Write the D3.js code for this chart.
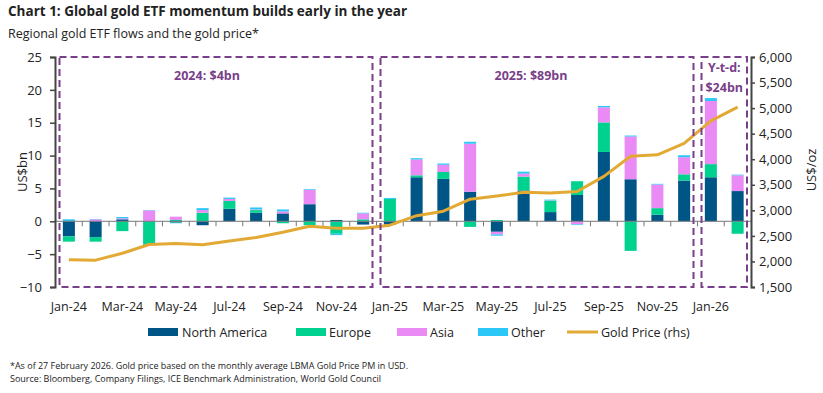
<!DOCTYPE html>
<html><head><meta charset="utf-8">
<script src="https://cdn.jsdelivr.net/npm/d3@7"></script>
<style>
body{margin:0;background:#fff;}
svg{display:block;font-family:"Open Sans","Noto Sans",sans-serif;}
</style></head>
<body><svg id="c" width="823" height="393"></svg>
<script>
const months = ["Jan-24","Feb-24","Mar-24","Apr-24","May-24","Jun-24","Jul-24","Aug-24","Sep-24","Oct-24","Nov-24","Dec-24",
"Jan-25","Feb-25","Mar-25","Apr-25","May-25","Jun-25","Jul-25","Aug-25","Sep-25","Oct-25","Nov-25","Dec-25","Jan-26","Feb-26"];
const northAmerica = [-2.3,-2.4,0.3,0,-0.2,-0.6,1.9,1.3,1.2,2.6,0.2,-0.5,-0.5,6.7,6.45,4.5,-1.6,4.7,1.4,4.0,10.55,6.4,1.0,6.2,6.7,4.6];
const europe = [-0.8,-0.7,-1.5,-3.6,0.2,1.3,1.2,0.4,-0.3,-0.6,-1.9,0.3,3.4,0.3,1.05,-0.85,0.2,2.1,1.75,2.1,4.5,-4.5,1.0,0.95,2.0,-1.9];
const asia = [0,0.3,0.15,1.65,0.5,0.4,0.3,0.1,0.3,2.2,0,0.9,0,2.4,1.1,7.3,-0.4,0.45,0.05,-0.45,2.3,6.5,3.6,2.6,9.6,2.4];
const other = [0.3,0.05,0.2,0.05,-0.1,0.3,0.2,0.3,0.3,0.1,-0.2,0.1,0.15,0.2,0.2,0.3,-0.2,0.3,0.1,-0.1,0.2,0.15,0.1,0.3,0.45,0.1];
const goldPrice = [2034,2025,2160,2331,2351,2326,2398,2470,2571,2690,2651,2648,2709,2895,2984,3217,3280,3352,3340,3368,3665,4059,4087,4310,4750,5020];
const leftTicks = [-10,-5,0,5,10,15,20,25];
const rightTicks = [1500,2000,2500,3000,3500,4000,4500,5000,5500,6000];
const seriesNames = ["North America","Europe","Asia","Other"];
const periods = [
  {from:"Jan-24", to:"Dec-24", lines:["2024: $4bn"]},
  {from:"Jan-25", to:"Dec-25", lines:["2025: $89bn"]},
  {from:"Jan-26", to:"Feb-26", lines:["Y-t-d:","$24bn"]}
];

const colors = {"North America":"#005587","Europe":"#00D18F","Asia":"#E98AF5","Other":"#2BC8F7"};
const goldColor = "#E2A934", purple = "#7A3F8A", txt = "#222";

const svg = d3.select("#c");
const x = d3.scaleBand().domain(months).range([55.5, 751]).paddingInner(0.55).paddingOuter(0.275);
const yL = d3.scaleLinear().domain([-10,25]).range([287,57]);
const yR = d3.scaleLinear().domain([1500,6000]).range([287,57]);

const rows = months.map((m,i)=>({month:m,"North America":northAmerica[i],"Europe":europe[i],"Asia":asia[i],"Other":other[i]}));
const stacked = d3.stack().keys(seriesNames).offset(d3.stackOffsetDiverging)(rows);

// Title
svg.append("text").attr("x",8).attr("y",16).attr("font-size",13.5).attr("font-weight","bold").attr("fill",txt)
  .text("Chart 1: Global gold ETF momentum builds early in the year");
svg.append("text").attr("x",8).attr("y",38).attr("font-size",12.5).attr("fill",txt)
  .text("Regional gold ETF flows and the gold price*");

// Bars
svg.append("g").selectAll("g").data(stacked).join("g").attr("fill",d=>colors[d.key])
  .selectAll("rect").data(d=>d).join("rect")
  .attr("x",d=>x(d.data.month)).attr("width",x.bandwidth())
  .attr("y",d=>yL(Math.max(d[0],d[1]))).attr("height",d=>Math.abs(yL(d[0])-yL(d[1])));

// Zero axis
const xAxis = d3.axisBottom(x).tickSize(0).tickFormat("");
svg.append("line").attr("x1",55).attr("x2",751).attr("y1",yL(0)).attr("y2",yL(0)).attr("stroke","#777").attr("stroke-width",1);
const step = x.step();
const bounds = d3.range(1, months.length).map(i=>x(months[i]) - (step - x.bandwidth())/2);
svg.append("g").selectAll("line").data(bounds).join("line")
  .attr("x1",d=>d).attr("x2",d=>d).attr("y1",yL(0)).attr("y2",yL(0)+5).attr("stroke","#777");

// x labels
svg.append("g").selectAll("text").data(months.filter((m,i)=>i%2===0)).join("text")
  .attr("x",d=>x(d)+x.bandwidth()/2).attr("y",311).attr("text-anchor","middle")
  .attr("font-size",12.5).attr("fill",txt).text(d=>d);

// Left axis
const gl = svg.append("g").attr("transform","translate(55,0)")
  .call(d3.axisLeft(yL).tickValues(leftTicks).tickSize(5).tickPadding(8));
gl.select(".domain").attr("stroke","#444").attr("stroke-width",2);
gl.selectAll(".tick line").attr("stroke","#444").attr("stroke-width",1.5);
gl.selectAll("text").attr("font-size",13).attr("fill",txt).attr("font-family","Open Sans");

// Right axis
const gr = svg.append("g").attr("transform","translate(751,0)")
  .call(d3.axisRight(yR).tickValues(rightTicks).tickSize(4).tickPadding(4).tickFormat(d3.format(",")));
gr.select(".domain").attr("stroke","#444").attr("stroke-width",2);
gr.selectAll(".tick line").attr("stroke","#444").attr("stroke-width",1.5);
gr.selectAll("text").attr("font-size",13).attr("fill",txt).attr("font-family","Open Sans");

// axis titles
svg.append("text").attr("transform","translate(27,172) rotate(-90)").attr("text-anchor","middle")
  .attr("font-size",13).attr("fill",txt).text("US$bn");
svg.append("text").attr("transform","translate(816,170) rotate(-90)").attr("text-anchor","middle")
  .attr("font-size",13).attr("fill",txt).text("US$/oz");

// Gold line
svg.append("path").datum(goldPrice).attr("fill","none").attr("stroke",goldColor).attr("stroke-width",3)
  .attr("stroke-linejoin","round")
  .attr("d",d3.line().x((d,i)=>x(months[i])+x.bandwidth()/2).y(d=>yR(d)));

// Period boxes
periods.forEach(p=>{
  const x0 = x(p.from) - (step - x.bandwidth())/2 + 4;
  const x1 = x(p.to) + x.bandwidth() + (step - x.bandwidth())/2 - 4;
  svg.append("rect").attr("x",x0).attr("y",57).attr("width",x1-x0).attr("height",230)
    .attr("fill","none").attr("stroke",purple).attr("stroke-width",2).attr("stroke-dasharray","7,4");
  const cx = (x0+x1)/2;
  const t = svg.append("text").attr("text-anchor","middle").attr("font-size",12.5).attr("font-weight","bold").attr("fill",purple);
  if (p.lines.length===1) {
    t.attr("x",cx - (p.from==="Jan-24"?9:6)).attr("y",80).text(p.lines[0]);
  } else {
    p.lines.forEach((l,i)=>svg.append("text").attr("text-anchor","middle").attr("font-size",12.5).attr("font-weight","bold")
      .attr("fill",purple).attr("x",cx).attr("y",72+i*20).text(l));
  }
});

// Legend
const legendItems = [
  {name:"North America", x:148, tx:182},
  {name:"Europe", x:296, tx:329},
  {name:"Asia", x:397, tx:430},
  {name:"Other", x:478, tx:511},
  {name:"Gold Price (rhs)", x:567, tx:601, line:true}
];
const lg = svg.append("g");
legendItems.forEach(it=>{
  if (it.line) lg.append("line").attr("x1",it.x).attr("x2",it.x+31).attr("y1",332).attr("y2",332).attr("stroke",goldColor).attr("stroke-width",3);
  else lg.append("rect").attr("x",it.x).attr("y",328).attr("width",30).attr("height",8).attr("fill",colors[it.name]);
  lg.append("text").attr("x",it.tx).attr("y",337).attr("font-size",12.5).attr("fill",txt).text(it.name);
});

// Footnotes
svg.append("text").attr("x",10).attr("y",369).attr("font-size",8.5).attr("fill",txt)
  .attr("textLength",398).attr("lengthAdjust","spacingAndGlyphs")
  .text("*As of 27 February 2026. Gold price based on the monthly average LBMA Gold Price PM in USD.");
svg.append("text").attr("x",10).attr("y",382).attr("font-size",8.5).attr("fill",txt)
  .attr("textLength",371).attr("lengthAdjust","spacingAndGlyphs")
  .text("Source: Bloomberg, Company Filings, ICE Benchmark Administration, World Gold Council");
</script></body></html>
